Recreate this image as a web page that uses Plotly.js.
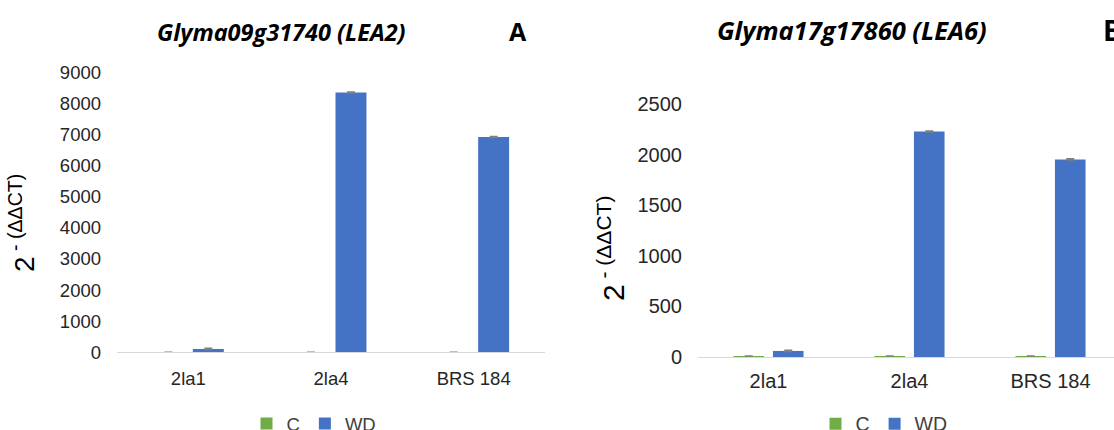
<!DOCTYPE html>
<html>
<head>
<meta charset="utf-8">
<script src="https://cdn.plot.ly/plotly-3.0.1.min.js"></script>
<style>
  html, body { margin: 0; padding: 0; background: #ffffff; overflow: hidden; width: 1114px; height: 430px; }
  #chart { width: 1140px; height: 430px; }
</style>
</head>
<body>
<div id="chart"></div>
<script>
// Cultivars on the x axis (shared by both panels)
const categories = ['2la1', '2la4', 'BRS 184'];

// Panel A: Glyma09g31740 (LEA2), relative expression 2^-(ΔΔCT)
const lea2Control = [1, 1, 1];
const lea2ControlErr = [0.1, 0.1, 0.1];
const lea2Deficit = [110, 8350, 6920];
const lea2DeficitErr = [20, 15, 15];

// Panel B: Glyma17g17860 (LEA6)
const lea6Control = [10, 10, 10];
const lea6ControlErr = [1, 1, 1];
const lea6Deficit = [60, 2230, 1955];
const lea6DeficitErr = [6, 5, 6];

const seriesNames = ['C', 'WD'];
const panelTitles = ['Glyma09g31740 (LEA2)', 'Glyma17g17860 (LEA6)'];
const panelLetters = ['A', 'B'];
const yTicksA = [0, 1000, 2000, 3000, 4000, 5000, 6000, 7000, 8000, 9000];
const yTicksB = [0, 500, 1000, 1500, 2000, 2500];

const GREEN = '#70ad47';
const BLUE = '#4472c4';
const W = 1140, H = 430;
const px = v => v / W;
const py = v => (H - v) / H;

function errBar(arr) {
  return { type: 'data', array: arr, visible: true, color: '#7f7f7f', thickness: 1.5, width: 4 };
}

const traces = [
  { type: 'bar', x: categories, y: lea2Control, name: seriesNames[0], marker: { color: GREEN },
    error_y: errBar(lea2ControlErr), xaxis: 'x', yaxis: 'y', legend: 'legend' },
  { type: 'bar', x: categories, y: lea2Deficit, name: seriesNames[1], marker: { color: BLUE },
    error_y: errBar(lea2DeficitErr), xaxis: 'x', yaxis: 'y', legend: 'legend' },
  { type: 'bar', x: categories, y: lea6Control, name: seriesNames[0], marker: { color: GREEN },
    error_y: errBar(lea6ControlErr), xaxis: 'x2', yaxis: 'y2', legend: 'legend2' },
  { type: 'bar', x: categories, y: lea6Deficit, name: seriesNames[1], marker: { color: BLUE },
    error_y: errBar(lea6DeficitErr), xaxis: 'x2', yaxis: 'y2', legend: 'legend2' }
];

const tickFontA = { family: 'Liberation Sans, Arial, sans-serif', size: 18.5, color: '#262626' };
const tickFontB = { family: 'Liberation Sans, Arial, sans-serif', size: 20, color: '#262626' };

function xAxis(domain, anchor, font, standoff) {
  return {
    domain: domain, anchor: anchor, type: 'category',
    showline: true, linecolor: '#d9d9d9', linewidth: 1,
    showgrid: false, zeroline: false,
    ticks: '', ticklabelstandoff: standoff, tickfont: font, fixedrange: true
  };
}
function yAxis(domain, anchor, range, ticks, font) {
  return {
    domain: domain, anchor: anchor, range: range,
    tickmode: 'array', tickvals: ticks, ticktext: ticks.map(String),
    showline: false, showgrid: false, zeroline: false,
    ticks: '', ticklabelstandoff: 15, tickfont: font, fixedrange: true
  };
}

const layout = {
  width: W, height: H,
  margin: { l: 0, r: 0, t: 0, b: 0, pad: 0, autoexpand: false },
  paper_bgcolor: '#ffffff', plot_bgcolor: '#ffffff',
  barmode: 'group', bargap: 0.44, bargroupgap: 0.225,
  xaxis: xAxis([px(117), px(545)], 'y', tickFontA, 9),
  yaxis: yAxis([py(352.3), py(72.3)], 'x', [0, 9000], yTicksA, tickFontA),
  xaxis2: xAxis([px(698), px(1121)], 'y2', tickFontB, 6),
  yaxis2: yAxis([py(357), py(104.3)], 'x2', [0, 2500], yTicksB, tickFontB),
  legend: {
    orientation: 'h', x: px(314), xanchor: 'center', y: py(424), yanchor: 'middle',
    font: { family: 'Liberation Sans, Arial, sans-serif', size: 18.5, color: '#404040' },
    itemwidth: 30, bgcolor: 'rgba(0,0,0,0)'
  },
  legend2: {
    orientation: 'h', x: px(884), xanchor: 'center', y: py(424), yanchor: 'middle',
    font: { family: 'Liberation Sans, Arial, sans-serif', size: 19.5, color: '#404040' },
    itemwidth: 30, bgcolor: 'rgba(0,0,0,0)'
  },
  annotations: [
    { text: '<b><i>' + panelTitles[0] + '</i></b>', xref: 'paper', yref: 'paper',
      x: px(281), y: py(32), xanchor: 'center', yanchor: 'middle', showarrow: false,
      font: { family: 'Open Sans, sans-serif', size: 23.5, color: '#000000' } },
    { text: '<b>' + panelLetters[0] + '</b>', xref: 'paper', yref: 'paper',
      x: px(518), y: py(31), xanchor: 'center', yanchor: 'middle', showarrow: false,
      font: { family: 'Open Sans, sans-serif', size: 25, color: '#000000' } },
    { text: '<b><i>' + panelTitles[1] + '</i></b>', xref: 'paper', yref: 'paper',
      x: px(852), y: py(30), xanchor: 'center', yanchor: 'middle', showarrow: false,
      font: { family: 'Open Sans, sans-serif', size: 25.5, color: '#000000' } },
    { text: '<b>' + panelLetters[1] + '</b>', xref: 'paper', yref: 'paper',
      x: px(1101), y: py(30), xanchor: 'left', yanchor: 'middle', showarrow: false,
      font: { family: 'Open Sans, sans-serif', size: 28, color: '#000000' } },
    { text: '2<sup> - (ΔΔCT)</sup>', xref: 'paper', yref: 'paper', textangle: -90,
      x: px(22), y: py(223), xanchor: 'center', yanchor: 'middle', showarrow: false,
      font: { family: 'Liberation Sans, Arial, sans-serif', size: 28, color: '#000000' } },
    { text: '2<sup> - (ΔΔCT)</sup>', xref: 'paper', yref: 'paper', textangle: -90,
      x: px(611), y: py(249), xanchor: 'center', yanchor: 'middle', showarrow: false,
      font: { family: 'Liberation Sans, Arial, sans-serif', size: 30, color: '#000000' } }
  ]
};

Plotly.newPlot('chart', traces, layout, { displayModeBar: false, staticPlot: true });
</script>
</body>
</html>
